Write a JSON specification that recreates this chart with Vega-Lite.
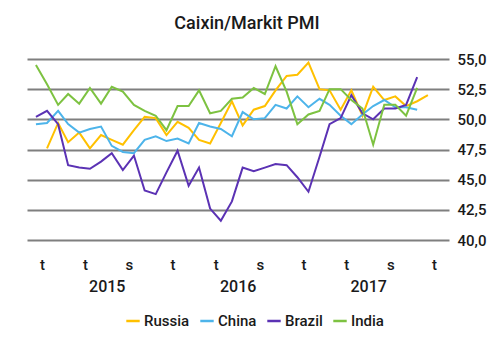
{
  "$schema": "https://vega.github.io/schema/vega-lite/v6.json",
  "autosize": {"type": "none"},
  "width": 422,
  "height": 181,
  "padding": {"left": 27, "top": 59, "right": 52, "bottom": 112},
  "background": "white",
  "config": {
    "font": "Roboto",
    "view": {"stroke": null},
    "axis": {"labelFont": "Roboto", "labelColor": "#1a1a1a", "labelFontSize": 15, "labelFontWeight": 500},
    "legend": {"labelFont": "Roboto", "labelColor": "#1a1a1a", "labelFontSize": 15, "labelFontWeight": 500}
  },
  "title": {
    "text": "Caixin/Markit PMI",
    "font": "Roboto",
    "fontSize": 18,
    "fontWeight": 500,
    "color": "#1a1a1a",
    "anchor": "middle",
    "frame": "group",
    "dx": 9,
    "offset": 19
  },
  "data": {
    "values": [
      {"country": "Russia", "month": "2015-01-15", "pmi": 47.6},
      {"country": "Russia", "month": "2015-02-15", "pmi": 49.7},
      {"country": "Russia", "month": "2015-03-15", "pmi": 48.1},
      {"country": "Russia", "month": "2015-04-15", "pmi": 48.9},
      {"country": "Russia", "month": "2015-05-15", "pmi": 47.6},
      {"country": "Russia", "month": "2015-06-15", "pmi": 48.7},
      {"country": "Russia", "month": "2015-07-15", "pmi": 48.3},
      {"country": "Russia", "month": "2015-08-15", "pmi": 47.9},
      {"country": "Russia", "month": "2015-09-15", "pmi": 49.1},
      {"country": "Russia", "month": "2015-10-15", "pmi": 50.2},
      {"country": "Russia", "month": "2015-11-15", "pmi": 50.1},
      {"country": "Russia", "month": "2015-12-15", "pmi": 48.7},
      {"country": "Russia", "month": "2016-01-15", "pmi": 49.8},
      {"country": "Russia", "month": "2016-02-15", "pmi": 49.3},
      {"country": "Russia", "month": "2016-03-15", "pmi": 48.3},
      {"country": "Russia", "month": "2016-04-15", "pmi": 48.0},
      {"country": "Russia", "month": "2016-05-15", "pmi": 49.7},
      {"country": "Russia", "month": "2016-06-15", "pmi": 51.5},
      {"country": "Russia", "month": "2016-07-15", "pmi": 49.5},
      {"country": "Russia", "month": "2016-08-15", "pmi": 50.8},
      {"country": "Russia", "month": "2016-09-15", "pmi": 51.1},
      {"country": "Russia", "month": "2016-10-15", "pmi": 52.4},
      {"country": "Russia", "month": "2016-11-15", "pmi": 53.6},
      {"country": "Russia", "month": "2016-12-15", "pmi": 53.7},
      {"country": "Russia", "month": "2017-01-15", "pmi": 54.7},
      {"country": "Russia", "month": "2017-02-15", "pmi": 52.5},
      {"country": "Russia", "month": "2017-03-15", "pmi": 52.4},
      {"country": "Russia", "month": "2017-04-15", "pmi": 50.8},
      {"country": "Russia", "month": "2017-05-15", "pmi": 52.4},
      {"country": "Russia", "month": "2017-06-15", "pmi": 50.3},
      {"country": "Russia", "month": "2017-07-15", "pmi": 52.7},
      {"country": "Russia", "month": "2017-08-15", "pmi": 51.6},
      {"country": "Russia", "month": "2017-09-15", "pmi": 51.9},
      {"country": "Russia", "month": "2017-10-15", "pmi": 51.1},
      {"country": "Russia", "month": "2017-11-15", "pmi": 51.5},
      {"country": "Russia", "month": "2017-12-15", "pmi": 52.0},
      {"country": "China", "month": "2014-12-15", "pmi": 49.6},
      {"country": "China", "month": "2015-01-15", "pmi": 49.7},
      {"country": "China", "month": "2015-02-15", "pmi": 50.7},
      {"country": "China", "month": "2015-03-15", "pmi": 49.6},
      {"country": "China", "month": "2015-04-15", "pmi": 48.9},
      {"country": "China", "month": "2015-05-15", "pmi": 49.2},
      {"country": "China", "month": "2015-06-15", "pmi": 49.4},
      {"country": "China", "month": "2015-07-15", "pmi": 47.8},
      {"country": "China", "month": "2015-08-15", "pmi": 47.3},
      {"country": "China", "month": "2015-09-15", "pmi": 47.2},
      {"country": "China", "month": "2015-10-15", "pmi": 48.3},
      {"country": "China", "month": "2015-11-15", "pmi": 48.6},
      {"country": "China", "month": "2015-12-15", "pmi": 48.2},
      {"country": "China", "month": "2016-01-15", "pmi": 48.4},
      {"country": "China", "month": "2016-02-15", "pmi": 48.0},
      {"country": "China", "month": "2016-03-15", "pmi": 49.7},
      {"country": "China", "month": "2016-04-15", "pmi": 49.4},
      {"country": "China", "month": "2016-05-15", "pmi": 49.2},
      {"country": "China", "month": "2016-06-15", "pmi": 48.6},
      {"country": "China", "month": "2016-07-15", "pmi": 50.6},
      {"country": "China", "month": "2016-08-15", "pmi": 50.0},
      {"country": "China", "month": "2016-09-15", "pmi": 50.1},
      {"country": "China", "month": "2016-10-15", "pmi": 51.2},
      {"country": "China", "month": "2016-11-15", "pmi": 50.9},
      {"country": "China", "month": "2016-12-15", "pmi": 51.9},
      {"country": "China", "month": "2017-01-15", "pmi": 51.0},
      {"country": "China", "month": "2017-02-15", "pmi": 51.7},
      {"country": "China", "month": "2017-03-15", "pmi": 51.2},
      {"country": "China", "month": "2017-04-15", "pmi": 50.3},
      {"country": "China", "month": "2017-05-15", "pmi": 49.6},
      {"country": "China", "month": "2017-06-15", "pmi": 50.4},
      {"country": "China", "month": "2017-07-15", "pmi": 51.1},
      {"country": "China", "month": "2017-08-15", "pmi": 51.6},
      {"country": "China", "month": "2017-09-15", "pmi": 51.0},
      {"country": "China", "month": "2017-10-15", "pmi": 51.0},
      {"country": "China", "month": "2017-11-15", "pmi": 50.8},
      {"country": "Brazil", "month": "2014-12-15", "pmi": 50.2},
      {"country": "Brazil", "month": "2015-01-15", "pmi": 50.7},
      {"country": "Brazil", "month": "2015-02-15", "pmi": 49.6},
      {"country": "Brazil", "month": "2015-03-15", "pmi": 46.2},
      {"country": "Brazil", "month": "2015-04-15", "pmi": 46.0},
      {"country": "Brazil", "month": "2015-05-15", "pmi": 45.9},
      {"country": "Brazil", "month": "2015-06-15", "pmi": 46.5},
      {"country": "Brazil", "month": "2015-07-15", "pmi": 47.2},
      {"country": "Brazil", "month": "2015-08-15", "pmi": 45.8},
      {"country": "Brazil", "month": "2015-09-15", "pmi": 47.0},
      {"country": "Brazil", "month": "2015-10-15", "pmi": 44.1},
      {"country": "Brazil", "month": "2015-11-15", "pmi": 43.8},
      {"country": "Brazil", "month": "2015-12-15", "pmi": 45.6},
      {"country": "Brazil", "month": "2016-01-15", "pmi": 47.4},
      {"country": "Brazil", "month": "2016-02-15", "pmi": 44.5},
      {"country": "Brazil", "month": "2016-03-15", "pmi": 46.0},
      {"country": "Brazil", "month": "2016-04-15", "pmi": 42.6},
      {"country": "Brazil", "month": "2016-05-15", "pmi": 41.6},
      {"country": "Brazil", "month": "2016-06-15", "pmi": 43.2},
      {"country": "Brazil", "month": "2016-07-15", "pmi": 46.0},
      {"country": "Brazil", "month": "2016-08-15", "pmi": 45.7},
      {"country": "Brazil", "month": "2016-09-15", "pmi": 46.0},
      {"country": "Brazil", "month": "2016-10-15", "pmi": 46.3},
      {"country": "Brazil", "month": "2016-11-15", "pmi": 46.2},
      {"country": "Brazil", "month": "2016-12-15", "pmi": 45.2},
      {"country": "Brazil", "month": "2017-01-15", "pmi": 44.0},
      {"country": "Brazil", "month": "2017-02-15", "pmi": 46.9},
      {"country": "Brazil", "month": "2017-03-15", "pmi": 49.6},
      {"country": "Brazil", "month": "2017-04-15", "pmi": 50.1},
      {"country": "Brazil", "month": "2017-05-15", "pmi": 52.0},
      {"country": "Brazil", "month": "2017-06-15", "pmi": 50.5},
      {"country": "Brazil", "month": "2017-07-15", "pmi": 50.0},
      {"country": "Brazil", "month": "2017-08-15", "pmi": 50.9},
      {"country": "Brazil", "month": "2017-09-15", "pmi": 50.9},
      {"country": "Brazil", "month": "2017-10-15", "pmi": 51.2},
      {"country": "Brazil", "month": "2017-11-15", "pmi": 53.5},
      {"country": "India", "month": "2014-12-15", "pmi": 54.5},
      {"country": "India", "month": "2015-01-15", "pmi": 52.9},
      {"country": "India", "month": "2015-02-15", "pmi": 51.2},
      {"country": "India", "month": "2015-03-15", "pmi": 52.1},
      {"country": "India", "month": "2015-04-15", "pmi": 51.3},
      {"country": "India", "month": "2015-05-15", "pmi": 52.6},
      {"country": "India", "month": "2015-06-15", "pmi": 51.3},
      {"country": "India", "month": "2015-07-15", "pmi": 52.7},
      {"country": "India", "month": "2015-08-15", "pmi": 52.3},
      {"country": "India", "month": "2015-09-15", "pmi": 51.2},
      {"country": "India", "month": "2015-10-15", "pmi": 50.7},
      {"country": "India", "month": "2015-11-15", "pmi": 50.3},
      {"country": "India", "month": "2015-12-15", "pmi": 49.1},
      {"country": "India", "month": "2016-01-15", "pmi": 51.1},
      {"country": "India", "month": "2016-02-15", "pmi": 51.1},
      {"country": "India", "month": "2016-03-15", "pmi": 52.4},
      {"country": "India", "month": "2016-04-15", "pmi": 50.5},
      {"country": "India", "month": "2016-05-15", "pmi": 50.7},
      {"country": "India", "month": "2016-06-15", "pmi": 51.7},
      {"country": "India", "month": "2016-07-15", "pmi": 51.8},
      {"country": "India", "month": "2016-08-15", "pmi": 52.6},
      {"country": "India", "month": "2016-09-15", "pmi": 52.1},
      {"country": "India", "month": "2016-10-15", "pmi": 54.4},
      {"country": "India", "month": "2016-11-15", "pmi": 52.3},
      {"country": "India", "month": "2016-12-15", "pmi": 49.6},
      {"country": "India", "month": "2017-01-15", "pmi": 50.4},
      {"country": "India", "month": "2017-02-15", "pmi": 50.7},
      {"country": "India", "month": "2017-03-15", "pmi": 52.5},
      {"country": "India", "month": "2017-04-15", "pmi": 52.5},
      {"country": "India", "month": "2017-05-15", "pmi": 51.6},
      {"country": "India", "month": "2017-06-15", "pmi": 50.9},
      {"country": "India", "month": "2017-07-15", "pmi": 47.9},
      {"country": "India", "month": "2017-08-15", "pmi": 51.2},
      {"country": "India", "month": "2017-09-15", "pmi": 51.2},
      {"country": "India", "month": "2017-10-15", "pmi": 50.3},
      {"country": "India", "month": "2017-11-15", "pmi": 52.6}
    ]
  },
  "encoding": {
    "y": {
      "field": "pmi",
      "type": "quantitative",
      "scale": {"domain": [40, 55], "zero": false, "nice": false},
      "axis": {
        "orient": "right",
        "title": null,
        "values": [40, 42.5, 45, 47.5, 50, 52.5, 55],
        "labelExpr": "replace(format(datum.value, '.1f'), '.', ',')",
        "labelOverlap": false,
        "grid": true,
        "gridColor": "#7f7f7f",
        "gridWidth": 1.8,
        "domain": false,
        "ticks": false,
        "labelPadding": 8,
        "labelFontSize": 15
      }
    }
  },
  "layer": [
    {
      "mark": {"type": "line", "strokeWidth": 2},
      "encoding": {
        "x": {
          "field": "month",
          "type": "temporal",
          "scale": {"type": "utc", "domain": [{"year": 2014, "month": 11, "date": 20, "utc": true}, {"year": 2018, "month": 2, "date": 12, "utc": true}]},
          "axis": {
            "orient": "bottom",
            "title": null,
            "grid": false,
            "domain": false,
            "ticks": false,
            "labelPadding": 17,
            "labelOverlap": false,
            "values": [
              {"year": 2015, "month": 1, "date": 1, "utc": true},
              {"year": 2015, "month": 5, "date": 1, "utc": true},
              {"year": 2015, "month": 9, "date": 1, "utc": true},
              {"year": 2016, "month": 1, "date": 1, "utc": true},
              {"year": 2016, "month": 5, "date": 1, "utc": true},
              {"year": 2016, "month": 9, "date": 1, "utc": true},
              {"year": 2017, "month": 1, "date": 1, "utc": true},
              {"year": 2017, "month": 5, "date": 1, "utc": true},
              {"year": 2017, "month": 9, "date": 1, "utc": true},
              {"year": 2018, "month": 1, "date": 1, "utc": true}
            ],
            "labelExpr": "utcmonth(datum.value) == 8 ? 's' : 't'",
            "labelFontSize": 15
          }
        },
        "color": {
          "field": "country",
          "type": "nominal",
          "scale": {"domain": ["Russia", "China", "Brazil", "India"], "range": ["#FFC000", "#4DB4EA", "#5B32B4", "#7DC241"]},
          "sort": ["Russia", "China", "Brazil", "India"],
          "legend": {
            "orient": "none",
            "legendX": 98,
            "legendY": 254,
            "direction": "horizontal",
            "title": null,
            "symbolType": "stroke",
            "symbolStrokeWidth": 2.5,
            "symbolSize": 180,
            "columnPadding": 5,
            "labelOffset": 3
          }
        }
      }
    },
    {
      "mark": {"type": "line", "opacity": 0},
      "encoding": {
        "x": {
          "field": "month",
          "type": "temporal",
          "axis": {
            "orient": "bottom",
            "title": null,
            "grid": false,
            "domain": false,
            "ticks": false,
            "labelPadding": 38,
            "labelOverlap": false,
            "values": [
              {"year": 2015, "month": 7, "date": 1, "utc": true},
              {"year": 2016, "month": 7, "date": 1, "utc": true},
              {"year": 2017, "month": 7, "date": 1, "utc": true}
            ],
            "labelExpr": "utcFormat(datum.value, '%Y')",
            "labelFontSize": 16
          }
        },
        "detail": {"field": "country"}
      }
    }
  ],
  "resolve": {"axis": {"x": "independent"}}
}
